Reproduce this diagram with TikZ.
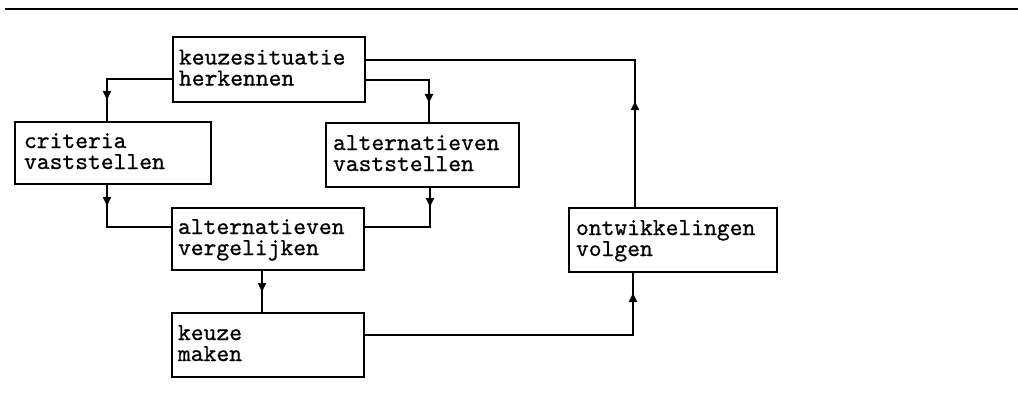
\documentclass[tikz,border=0pt]{standalone}
\usepackage{fontspec}
\newfontfamily\courlike[FakeBold=0.7]{lmmono10-regular.otf}
\usetikzlibrary{arrows.meta,decorations.markings}
\tikzset{
  stepbox/.style={draw, line width=1.2pt, rectangle, outer sep=0pt, inner xsep=6pt, inner ysep=0pt,
    align=left, anchor=north west, font={\courlike\fontsize{24.4pt}{21pt}\selectfont},
    text height=14pt, text depth=24pt},
  conn/.style={line width=1.2pt},
  arr/.style={postaction={decorate}, decoration={markings,
    mark=at position #1 with {\arrow{Latex[length=10pt,width=9pt]}}}}
}
\begin{document}
\begin{tikzpicture}[x=1pt,y=-1pt]
\useasboundingbox (0,0) rectangle (1018,396);
\draw[line width=2pt] (5,9) -- (1018,9);

\node[stepbox, minimum width=192pt, minimum height=65pt, text width=180pt] (A) at (173,37) {keuzesituatie\\herkennen};
\node[stepbox, minimum width=196pt, minimum height=62pt, inner xsep=9pt, text width=178pt] (crit) at (15,122) {criteria\\vaststellen};
\node[stepbox, minimum width=193pt, minimum height=64pt, inner xsep=7pt, text width=179pt] (altv) at (326,123) {alternatieven\\vaststellen};
\node[stepbox, minimum width=192pt, minimum height=62pt, text width=180pt] (verg) at (172,208) {alternatieven\\vergelijken};
\node[stepbox, minimum width=192pt, minimum height=64pt, text width=180pt] (keuze) at (172,313) {keuze\\maken};
\node[stepbox, minimum width=208pt, minimum height=64pt, inner xsep=7pt, text width=194pt] (ontw) at (569,208) {ontwikkelingen\\volgen};

\draw[conn, arr=88pt] ([yshift=-42pt]A.north west) -| ([xshift=-6pt]crit.north);
\draw[conn, arr=88pt] ([yshift=-43pt]A.north east) -| ([xshift=6.5pt]altv.north);
\draw[conn, arr=108pt] ([xshift=-38pt]ontw.north) |- ([yshift=-23pt]A.north east);
\draw[conn, arr=312pt] ([yshift=-22pt]keuze.north east) -| ([xshift=-40pt]ontw.south);
\draw[conn, arr=23pt] ([xshift=-6pt]crit.south) |- ([yshift=-19pt]verg.north west);
\draw[conn, arr=21pt] ([xshift=7.5pt]altv.south) |- ([yshift=-19pt]verg.north east);
\draw[conn, arr=23pt] ([xshift=-6pt]verg.south) -- ([xshift=-6pt]keuze.north);
\end{tikzpicture}
\end{document}
